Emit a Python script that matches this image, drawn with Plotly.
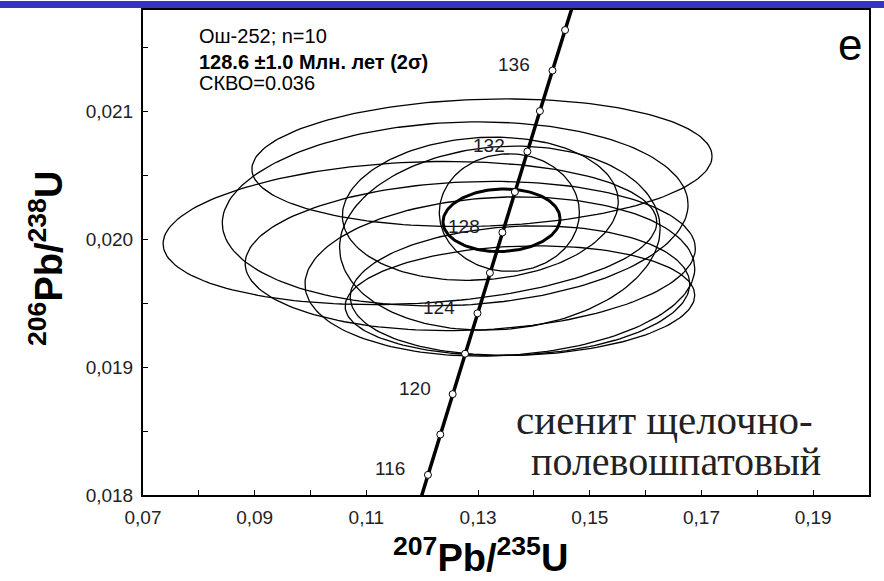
import numpy as np
import plotly.graph_objects as go

# ---------------- data ----------------
# concordia decay constants (1/yr)
LAMBDA_238 = 1.55125e-10
LAMBDA_235 = 9.8485e-10

concordia_line_ages = [114, 116, 118, 120, 122, 124, 126, 128, 130, 132, 134, 136, 138, 140]  # Ma
marker_ages = [116, 118, 120, 122, 124, 126, 128, 130, 132, 134, 136, 138]  # Ma
label_ages = [116, 120, 124, 128, 132, 136]  # Ma

# individual analyses: 207Pb/235U, half-width, 206Pb/238U, half-height, correlation
ell_x = [0.1307, 0.1178, 0.1259, 0.1286, 0.1339, 0.1375, 0.1356, 0.1304, 0.1339, 0.1375]
ell_sx = [0.0412, 0.0442, 0.0417, 0.0403, 0.0349, 0.0304, 0.01254, 0.0247, 0.0287, 0.0313]
ell_y = [0.02060, 0.02005, 0.02020, 0.01987, 0.01971, 0.01960, 0.02021, 0.02024, 0.02001, 0.01952]
ell_sy = [0.000499, 0.00056, 0.00072, 0.000584, 0.000623, 0.000506, 0.00046, 0.000560, 0.00072, 0.00043]
ell_rho = [0.1, 0.15, 0.1, 0.1, 0.1, 0.1, 0.0, 0.1, 0.1, 0.1]

# concordia age ellipse
mean_x, mean_sx = 0.1342, 0.01048
mean_y, mean_sy = 0.02015, 0.000245
mean_rho = 0.05

info_lines = ["Ош-252; n=10", "<b>128.6 ±1.0 Млн. лет (2σ)</b>", "СКВО=0.036"]
rock_lines = ["сиенит щелочно-", "полевошпатовый"]
panel_letter = "e"
x_title = "<b><sup>207</sup>Pb/<sup>235</sup>U</b>"
y_title = "<b><sup>206</sup>Pb/<sup>238</sup>U</b>"

x_range = [0.07, 0.20]
y_range = [0.018, 0.021795]


def conc(t_ma):
    t = np.asarray(t_ma, dtype=float) * 1e6
    return np.exp(LAMBDA_235 * t) - 1, np.exp(LAMBDA_238 * t) - 1


def ellipse(cx, sx, cy, sy, rho, n=181):
    th = np.linspace(0, 2 * np.pi, n)
    x = cx + sx * np.cos(th)
    y = cy + sy * (rho * np.cos(th) + np.sqrt(1 - rho ** 2) * np.sin(th))
    return x, y


SANS = "Arial, Liberation Sans"
SERIF = "Times New Roman, Liberation Serif"

fig = go.Figure()

for cx, sx, cy, sy, r in zip(ell_x, ell_sx, ell_y, ell_sy, ell_rho):
    ex, ey = ellipse(cx, sx, cy, sy, r)
    fig.add_trace(go.Scatter(x=ex, y=ey, mode="lines",
                             line=dict(color="black", width=1.3),
                             hoverinfo="skip", showlegend=False))

mx, my = ellipse(mean_x, mean_sx, mean_y, mean_sy, mean_rho)
fig.add_trace(go.Scatter(x=mx, y=my, mode="lines",
                         line=dict(color="black", width=3),
                         hoverinfo="skip", showlegend=False))

cx_line, cy_line = conc(concordia_line_ages)
fig.add_trace(go.Scatter(x=cx_line, y=cy_line, mode="lines",
                         line=dict(color="black", width=3.5),
                         hoverinfo="skip", showlegend=False))

mkx, mky = conc(marker_ages)
fig.add_trace(go.Scatter(x=mkx, y=mky, mode="markers",
                         marker=dict(symbol="circle", size=7, color="white",
                                     line=dict(color="black", width=1)),
                         hoverinfo="skip", showlegend=False))

annotations = []
lx, ly = conc(label_ages)
for a, x, y in zip(label_ages, lx, ly):
    annotations.append(dict(x=x, y=y, xref="x", yref="y", text=str(a),
                            showarrow=False, xshift=-38, yshift=6,
                            font=dict(family=SANS, size=19, color="#1c1c2c")))

info_y = [0.021595, 0.021390, 0.021225]
for t, yy in zip(info_lines, info_y):
    annotations.append(dict(x=0.0797, y=yy, xref="x", yref="y", text=t,
                            showarrow=False, xanchor="left", yanchor="middle",
                            font=dict(family=SANS, size=20, color="black")))

annotations.append(dict(x=0.1991, y=0.021522, xref="x", yref="y", text=panel_letter,
                        showarrow=False, xanchor="right", yanchor="middle",
                        font=dict(family=SANS, size=44, color="black")))

annotations.append(dict(x=0.19037, y=0.018590, xref="x", yref="y", text=rock_lines[0],
                        showarrow=False, xanchor="right", yanchor="middle",
                        font=dict(family=SERIF, size=41, color="#222")))
annotations.append(dict(x=0.19180, y=0.018265, xref="x", yref="y", text=rock_lines[1],
                        showarrow=False, xanchor="right", yanchor="middle",
                        font=dict(family=SERIF, size=40, color="#222")))

# axis titles
annotations.append(dict(x=(480 - 143) / 726, y=-(555 - 495) / 487, xref="paper", yref="paper",
                        text=x_title, showarrow=False, xanchor="center", yanchor="middle",
                        font=dict(family=SANS, size=38, color="black")))
annotations.append(dict(x=-(143 - 46) / 726, y=(495 - 258) / 487, xref="paper", yref="paper",
                        text=y_title, showarrow=False, xanchor="center", yanchor="middle",
                        textangle=-90,
                        font=dict(family=SANS, size=38, color="black")))

fig.update_layout(
    width=884, height=581,
    margin=dict(l=143, r=15, t=8, b=86),
    paper_bgcolor="white", plot_bgcolor="white",
    separators=",.",
    annotations=annotations,
    font=dict(family=SANS, color="#222"),
    shapes=[dict(type="rect", xref="paper", yref="paper",
                 x0=-0.2, x1=1.03, y0=1 + 2 / 487, y1=1 + 9 / 487,
                 fillcolor="#3434C8", line=dict(width=0), layer="above")],
)

fig.update_xaxes(range=x_range, tick0=0.07, dtick=0.02, tickformat=".2f",
                 ticks="inside", ticklen=5, tickwidth=1.2, tickcolor="black",
                 minor=dict(dtick=0.01, tick0=0.07, ticks="inside", ticklen=5, tickcolor="black"),
                 showline=True, linecolor="black", linewidth=2, mirror=True,
                 showgrid=False, zeroline=False, ticklabelstandoff=4,
                 tickfont=dict(family=SANS, size=19, color="#222"))
fig.update_yaxes(range=y_range, tick0=0.018, dtick=0.001, tickformat=".3f",
                 ticks="inside", ticklen=5, tickwidth=1.2, tickcolor="black",
                 minor=dict(dtick=0.0005, tick0=0.018, ticks="inside", ticklen=5, tickcolor="black"),
                 showline=True, linecolor="black", linewidth=2, mirror=True,
                 showgrid=False, zeroline=False, ticklabelstandoff=4,
                 tickfont=dict(family=SANS, size=19, color="#222"))

fig.write_html("out.html")
